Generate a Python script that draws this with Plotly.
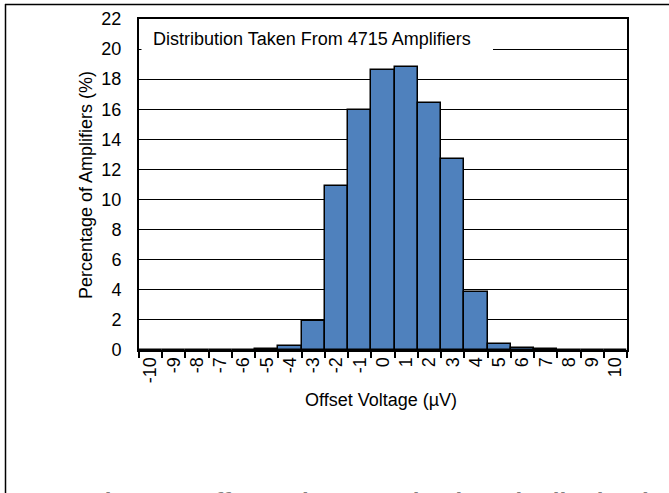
import plotly.graph_objects as go

categories = [str(v) for v in range(-10, 11)]
percent = [0, 0, 0, 0, 0, 0.07, 0.25, 1.93, 10.87, 15.96, 18.63, 18.78, 16.39, 12.69, 3.85, 0.43, 0.15, 0.05, 0.01, 0.01, 0]
y_ticks = list(range(0, 23, 2))

W, H = 669, 493
L, R, T, B = 139, 42, 19, 143
pw, ph = W - L - R, H - T - B

def px(x):
    return (x - L) / pw

def py(y):
    return (H - B - y) / ph

font = dict(family="Liberation Sans, Arial, sans-serif", size=18, color="black")

fig = go.Figure(go.Bar(
    x=categories, y=percent,
    marker=dict(color="#4F81BD", line=dict(color="black", width=1.5)),
    width=1.0,
))

fig.update_layout(
    width=W, height=H,
    margin=dict(l=L, r=R, t=T, b=B, autoexpand=False),
    paper_bgcolor="white", plot_bgcolor="white",
    bargap=0, showlegend=False, font=font,
)
fig.update_xaxes(
    type="category", categoryorder="array", categoryarray=categories,
    range=[-0.5, 20.5], tickson="boundaries", ticks="outside", ticklen=6,
    tickwidth=1.5, tickcolor="black", tickangle=-90, tickfont=font,
    showline=True, linewidth=2, linecolor="black", mirror=True,
    showgrid=False, fixedrange=True, ticklabelstandoff=-2,
)
fig.update_yaxes(
    range=[0, 22], tickvals=y_ticks, ticks="", tickfont=font,
    showline=True, linewidth=2, linecolor="black", mirror=True,
    showgrid=True, gridcolor="black", gridwidth=1, zeroline=False,
    fixedrange=True, ticklabelstandoff=12,
)

annotations = [
    dict(text="Distribution Taken From 4715 Amplifiers", xref="paper", yref="paper",
         x=px(151), y=py(39.5), xanchor="left", yanchor="middle", showarrow=False,
         font=font),
    dict(text="Offset Voltage (µV)", xref="paper", yref="paper", x=px(381), y=py(400),
         xanchor="center", yanchor="middle", showarrow=False, font=font),
    dict(text="Percentage of Amplifiers (%)", xref="paper", yref="paper", x=px(86), y=py(185),
         xanchor="center", yanchor="middle", showarrow=False, textangle=-90, font=font),
    dict(text="<b><i>Figure 1. Offset Voltage Production Distribution (TSSOP)</i></b>",
         xref="paper", yref="paper", x=px(86), y=py(485.5), xanchor="left", yanchor="top",
         showarrow=False, font=dict(family="Liberation Sans, Arial, sans-serif", size=24, color="#808080")),
]
fig.update_layout(annotations=annotations)

shapes = [
    dict(type="rect", xref="paper", yref="paper", x0=px(141.5), x1=px(493), y0=py(29), y1=py(51),
         fillcolor="white", line=dict(width=0), layer="above"),
    dict(type="line", xref="paper", yref="paper", x0=px(5), x1=px(669), y0=py(4.5), y1=py(4.5),
         line=dict(color="black", width=1.5)),
    dict(type="line", xref="paper", yref="paper", x0=px(5.5), x1=px(5.5), y0=py(4), y1=py(493),
         line=dict(color="black", width=1.5)),
]
fig.update_layout(shapes=shapes)

fig.write_html("out.html", config={"displayModeBar": False},
               post_script="document.body.style.margin='0';document.body.style.padding='0';")
